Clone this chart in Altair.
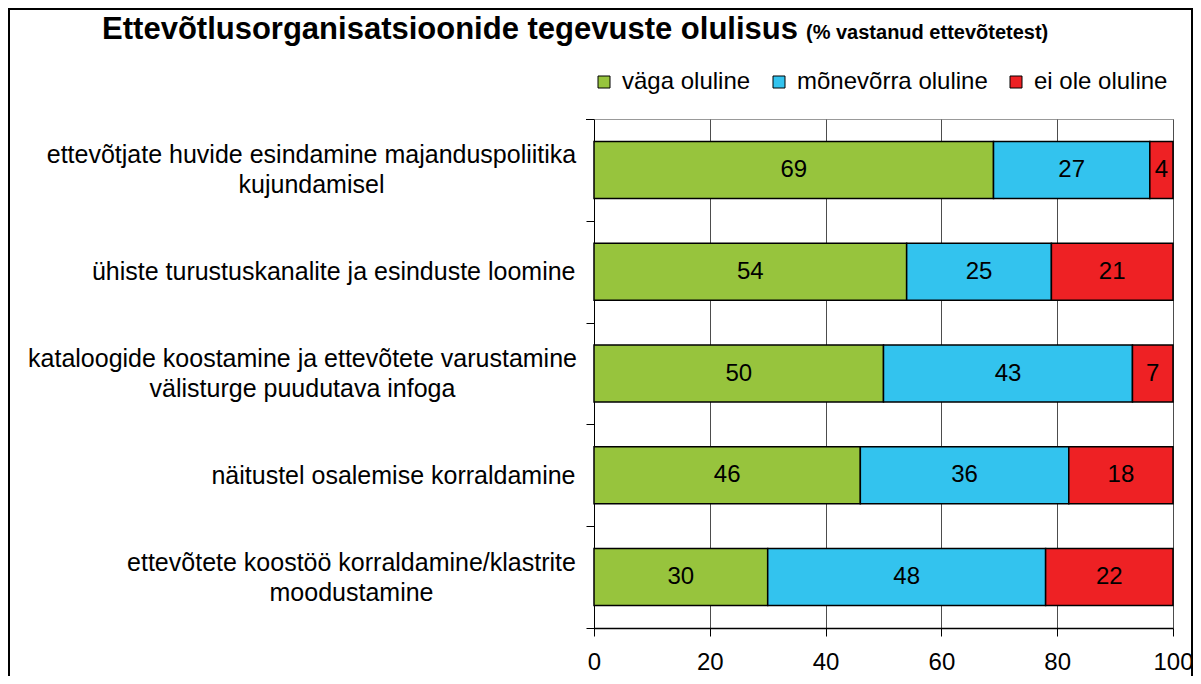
import altair as alt
import pandas as pd

title_main = "Ettevõtlusorganisatsioonide tegevuste olulisus"
title_sub = "(% vastanud ettevõtetest)"

categories = [
    "ettevõtjate huvide esindamine majanduspoliitika\nkujundamisel",
    "ühiste turustuskanalite ja esinduste loomine",
    "kataloogide koostamine ja ettevõtete varustamine\nvälisturge puudutava infoga",
    "näitustel osalemise korraldamine",
    "ettevõtete koostöö korraldamine/klastrite\nmoodustamine",
]
series = ["väga oluline", "mõnevõrra oluline", "ei ole oluline"]
vaga_oluline = [69, 54, 50, 46, 30]
monevorra_oluline = [27, 25, 43, 36, 48]
ei_ole_oluline = [4, 21, 7, 18, 22]
colors = ["#97C43D", "#33C3EE", "#EE2124"]
x_ticks = [0, 20, 40, 60, 80, 100]

rows = []
for i, c in enumerate(categories):
    for j, vals in enumerate([vaga_oluline, monevorra_oluline, ei_ole_oluline]):
        rows.append({"category": c, "series": series[j], "value": vals[i], "order": j})
df = pd.DataFrame(rows)

FONT = "Liberation Sans"
HALF_STEP = 50.9

base = alt.Chart(df).transform_stack(
    stack="value", groupby=["category"], as_=["x0", "x1"],
    sort=[alt.SortField("order", order="ascending")]
).transform_calculate(mid="(datum.x0 + datum.x1) / 2")

two_line = "indexof(datum.value, '\\n') >= 0"

y_enc = alt.Y(
    "category:N", sort=categories, title=None,
    scale=alt.Scale(paddingInner=0.44, paddingOuter=0.22),
    axis=alt.Axis(
        tickSize=8, tickOffset=HALF_STEP, labelFontSize=25,
        labelFont=FONT, labelColor="black", labelLimit=700,
        labelExpr="split(datum.label, '\\n')", labelLineHeight=30,
        domainColor="black", tickColor="black", grid=False,
        labelAlign={"condition": {"test": two_line, "value": "center"}, "value": "right"},
        labelPadding={"condition": [
            {"test": "indexof(datum.value, 'kujundamisel') >= 0", "value": 275},
            {"test": "indexof(datum.value, 'infoga') >= 0", "value": 284},
            {"test": "indexof(datum.value, 'moodustamine') >= 0", "value": 235},
        ], "value": 11},
        labelOffset={"condition": {"test": two_line, "value": -HALF_STEP - 15},
                     "value": -HALF_STEP},
    ),
)

bars = base.mark_bar(stroke="black", strokeWidth=1.5).encode(
    x=alt.X(
        "x0:Q", title=None, scale=alt.Scale(domain=[0, 100], nice=False),
        axis=alt.Axis(
            values=x_ticks, grid=True, gridColor="#4d4d4d", tickSize=8,
            tickColor="black", domainColor="black", domainWidth=1.5,
            labelFontSize=24, labelFont=FONT, labelColor="black",
            labelPadding=14, labelFlush=False, labelOverlap=False,
        ),
    ),
    x2="x1:Q",
    y=y_enc,
    color=alt.Color(
        "series:N", sort=series, scale=alt.Scale(domain=series, range=colors),
        legend=alt.Legend(
            title=None, orient="none", legendX=-2, legendY=-49,
            direction="horizontal", symbolType="square", symbolSize=144,
            symbolStrokeColor="black", symbolStrokeWidth=1,
            labelFontSize=24, labelFont=FONT, labelColor="black",
            columnPadding=16, labelOffset=6, padding=0, labelLimit=400,
        ),
    ),
)

labels = base.mark_text(fontSize=24, font=FONT, color="black", baseline="middle").encode(
    x="mid:Q",
    y=alt.Y("category:N", sort=categories),
    text="value:Q",
)

t_main = alt.Chart(alt.Data(values=[{"t": title_main}])).mark_text(
    align="right", baseline="alphabetic", fontSize=31, fontWeight="bold", font=FONT, color="black"
).encode(x=alt.value(204), y=alt.value(-80), text="t:N")

t_sub = alt.Chart(alt.Data(values=[{"t": title_sub}])).mark_text(
    align="left", baseline="alphabetic", fontSize=20, fontWeight="bold", font=FONT, color="black"
).encode(x=alt.value(212), y=alt.value(-80), text="t:N")

border = alt.Chart(alt.Data(values=[{"b": 1}])).mark_rect(
    fillOpacity=0, stroke="black", strokeWidth=2
).encode(x=alt.value(-585), x2=alt.value(598), y=alt.value(-110), y2=alt.value(700))

top_tick = alt.Chart(alt.Data(values=[{"b": 1}])).mark_rule(color="black", strokeWidth=1).encode(
    x=alt.value(-8), x2=alt.value(0), y=alt.value(0.5)
)

chart = alt.layer(border, bars, labels, t_main, t_sub, top_tick).properties(
    width=579, height=509,
    autosize=alt.AutoSizeParams(type="none"),
    padding={"left": 586, "top": 111, "right": 20, "bottom": 48},
).configure_view(stroke="#999999", strokeWidth=1)

chart.save("out.html", embed_options={"renderer": "svg", "actions": False})
